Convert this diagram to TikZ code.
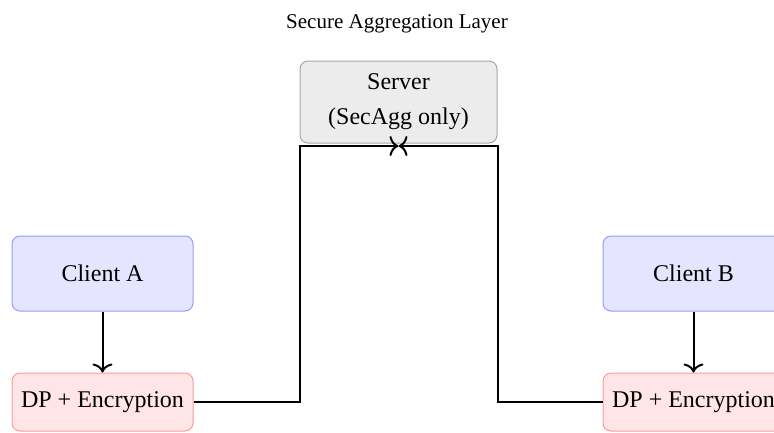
\documentclass[tikz,border=0pt]{standalone}
\usepackage{fontspec}
\setmainfont{Liberation Serif}
\usetikzlibrary{arrows.meta,calc}
\tikzset{
  box/.style={rounded corners=8pt, line width=1pt, minimum width=181pt, inner sep=0pt,
    font=\fontsize{24}{35}\selectfont, align=center},
  clientbox/.style={box, draw=blue!40, fill=blue!10, minimum height=75pt},
  dpbox/.style={box, draw=red!40, fill=red!10, minimum height=58pt},
  serverbox/.style={box, draw=gray!70, fill=gray!15, minimum width=197pt, minimum height=82pt},
  flow/.style={line width=2pt, -{Computer Modern Rightarrow[length=9pt,width=20pt,line width=2pt]}},
}
\begin{document}
\begin{tikzpicture}[x=1pt,y=-1pt]
  \useasboundingbox (0,0) rectangle (774,432);
  \node[font=\fontsize{21}{25}\selectfont] (title) at (397,24) {Secure Aggregation Layer};
  \node[serverbox] (server) at (398.5,102) {Server\\(SecAgg only)};
  \node[clientbox] (ca) at (102.5,273.5) {Client A};
  \node[dpbox] (da) at (102.5,402) {DP + Encryption};
  \node[clientbox] (cb) at (693.5,273.5) {Client B};
  \node[dpbox] (db) at (693.5,402) {DP + Encryption};
  \coordinate (meet) at ($(server.south)+(0,2.5)$);
  \coordinate (cornerA) at ($(server.south west)+(0,2.5)$);
  \coordinate (cornerB) at ($(server.south east)+(0,2.5)$);
  \draw[flow] (ca) -- (da);
  \draw[flow] (cb) -- (db);
  \draw[flow] (da.east) -| (cornerA) -- (meet);
  \draw[flow] (db.west) -| (cornerB) -- (meet);
\end{tikzpicture}
\end{document}
